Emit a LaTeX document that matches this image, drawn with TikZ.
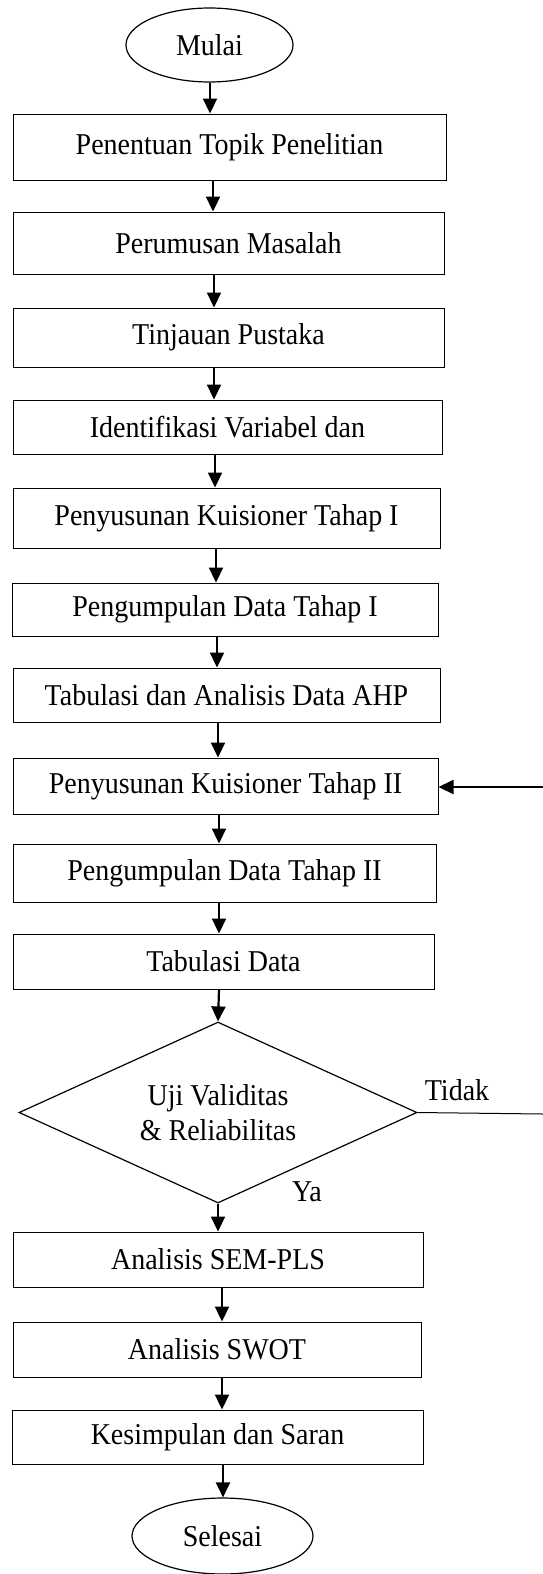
\documentclass[tikz,border=0pt]{standalone}
\usepackage{fontspec}
\usepackage{graphicx}
\setmainfont{Liberation Serif}
\usetikzlibrary{shapes.geometric,arrows.meta}
\newcommand\tx[1]{\scalebox{1}[1.08]{#1}}
\begin{document}
\begin{tikzpicture}[x=1pt,y=-1pt,
  every node/.style={font=\fontsize{28}{35}\selectfont},
  box/.style={draw,line width=1pt,rectangle,inner sep=0pt},
  term/.style={draw,line width=1.2pt,ellipse,inner sep=0pt},
  decision/.style={draw,line width=1.2pt,diamond,aspect=2.2,inner sep=0pt,align=center},
  arr/.style={line width=2.2pt,-{Triangle[length=15pt,width=14pt]}},
  plain/.style={line width=1pt},
  lbl/.style={inner sep=0pt}]
\useasboundingbox (0,0) rectangle (543,1574);
\node[term,minimum width=167pt,minimum height=74pt] (start) at (209.5,45) {\tx{Mulai}};
\node[box,minimum width=433pt,minimum height=66pt] (b1) at (229.5,147) {\tx{Penentuan Topik Penelitian}};
\node[box,minimum width=431pt,minimum height=62pt] (b2) at (228.5,243) {\tx{Perumusan Masalah}};
\node[box,minimum width=431pt,minimum height=59pt] (b3) at (228.5,337.5) {\tx{Tinjauan Pustaka}};
\node[box,minimum width=429pt,minimum height=54pt] (b4) at (227.5,427) {\tx{Identifikasi Variabel dan}};
\node[box,minimum width=427pt,minimum height=60pt] (b5) at (226.5,518) {\tx{Penyusunan Kuisioner Tahap I}};
\node[box,minimum width=426pt,minimum height=53pt] (b6) at (225,609.5) {\tx{Pengumpulan Data Tahap I}};
\node[box,minimum width=427pt,minimum height=54pt] (b7) at (226.5,695) {\tx{Tabulasi dan Analisis Data AHP}};
\node[box,minimum width=425pt,minimum height=56pt] (b8) at (225.5,786) {\tx{Penyusunan Kuisioner Tahap II}};
\node[box,minimum width=423pt,minimum height=58pt] (b9) at (224.5,873) {\tx{Pengumpulan Data Tahap II}};
\node[box,minimum width=421pt,minimum height=55pt] (b10) at (223.5,961.5) {\tx{Tabulasi Data}};
\node[decision,minimum width=398pt,minimum height=181pt] (d) at (218,1112.5) {\tx{Uji Validitas}\\\tx{\& Reliabilitas}};
\node[box,minimum width=410pt,minimum height=55pt] (b11) at (218,1259.5) {\tx{Analisis SEM-PLS}};
\node[box,minimum width=408pt,minimum height=55pt] (b12) at (217,1349.5) {\tx{Analisis SWOT}};
\node[box,minimum width=411pt,minimum height=54pt] (b13) at (217.5,1437) {\tx{Kesimpulan dan Saran}};
\node[term,minimum width=181pt,minimum height=76pt] (end) at (222.5,1536) {\tx{Selesai}};
\node[lbl] (tidak) at (457,1090) {\tx{Tidak}};
\node[lbl] (ya) at (307,1192) {\tx{Ya}};
\coordinate (tend) at (543,1114);
\coordinate (lstart) at (543,787);
% x positions of the arrows
\coordinate (x0) at (210,0);
\coordinate (x1) at (213,0);
\coordinate (x2) at (214,0);
\coordinate (x3) at (214,0);
\coordinate (x4) at (215,0);
\coordinate (x5) at (216,0);
\coordinate (x6) at (217,0);
\coordinate (x7) at (218,0);
\coordinate (x8) at (219,0);
\coordinate (x9) at (219,0);
\coordinate (x10) at (219,0);
\coordinate (x11) at (218,0);
\coordinate (x12) at (222,0);
\coordinate (x13) at (222,0);
\coordinate (x14) at (223,0);
\draw[arr] (start.south -| x0) -- (b1.north -| x0);
\draw[arr] (b1.south -| x1) -- (b2.north -| x1);
\draw[arr] (b2.south -| x2) -- (b3.north -| x2);
\draw[arr] (b3.south -| x3) -- (b4.north -| x3);
\draw[arr] (b4.south -| x4) -- (b5.north -| x4);
\draw[arr] (b5.south -| x5) -- (b6.north -| x5);
\draw[arr] (b6.south -| x6) -- (b7.north -| x6);
\draw[arr] (b7.south -| x7) -- (b8.north -| x7);
\draw[arr] (b8.south -| x8) -- (b9.north -| x8);
\draw[arr] (b9.south -| x9) -- (b10.north -| x9);
\draw[arr] (b10.south -| x10) -- (d.north);
\draw[arr] (d.south) -- (b11.north -| x11);
\draw[arr] (b11.south -| x12) -- (b12.north -| x12);
\draw[arr] (b12.south -| x13) -- (b13.north -| x13);
\draw[arr] (b13.south -| x14) -- (end.north -| x14);
\draw[plain] (d.east) -- (tend);
\draw[arr] (lstart) -- (b8.east |- lstart);
\end{tikzpicture}
\end{document}
